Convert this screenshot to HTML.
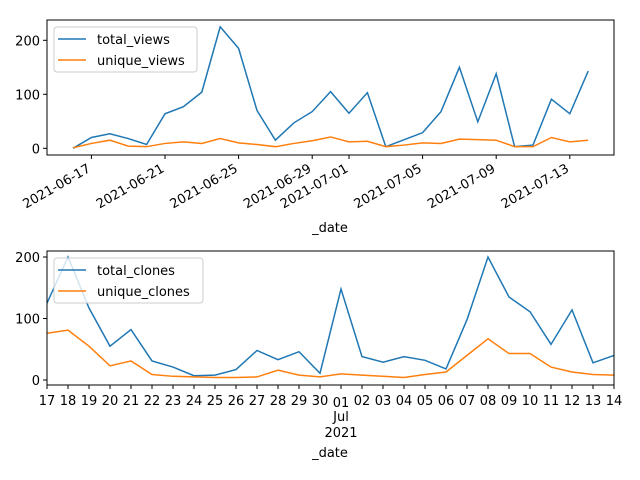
<!DOCTYPE html>
<html><head><meta charset="utf-8"><style>
body{margin:0;background:#fff}
svg{display:block;font-family:"DejaVu Sans","Liberation Sans",sans-serif}
</style></head><body>
<svg id="c" width="640" height="480" xmlns="http://www.w3.org/2000/svg"></svg>
<script>
const viewDates=["2021-06-16","2021-06-17","2021-06-18","2021-06-19","2021-06-20","2021-06-21","2021-06-22","2021-06-23","2021-06-24","2021-06-25","2021-06-26","2021-06-27","2021-06-28","2021-06-29","2021-06-30","2021-07-01","2021-07-02","2021-07-03","2021-07-04","2021-07-05","2021-07-06","2021-07-07","2021-07-08","2021-07-09","2021-07-10","2021-07-11","2021-07-12","2021-07-13","2021-07-14"];
const totalViews=[0,20,27,18,7,64,77,104,225,185,70,15,47,68,105,65,103,3,16,29,68,150,49,138,3,6,91,64,143];
const uniqueViews=[1,9,15,4,3,9,12,9,18,10,7,3,9,14,21,12,13,3,6,10,9,17,16,15,3,3,20,12,15];
const viewTickLabels=["2021-06-17","2021-06-21","2021-06-25","2021-06-29","2021-07-01","2021-07-05","2021-07-09","2021-07-13"];
const viewYTicks=[0,100,200];
const cloneDays=["17","18","19","20","21","22","23","24","25","26","27","28","29","30","01","02","03","04","05","06","07","08","09","10","11","12","13","14"];
const totalClones=[125,200,117,55,82,31,21,7,8,17,48,33,46,11,148,38,29,38,32,18,98,200,135,111,58,114,28,40];
const uniqueClones=[76,81,55,23,31,9,6,5,4,4,5,16,8,5,10,8,6,4,9,13,40,67,43,43,21,13,9,8];
const cloneYTicks=[0,100,200];

const svg=document.getElementById('c');const NS="http://www.w3.org/2000/svg";
function el(t,a,p){const e=document.createElementNS(NS,t);for(const k in a)e.setAttribute(k,a[k]);(p||svg).appendChild(e);return e;}
function day(s){return Date.parse(s)/86400000;}
const BLUE="#1f77b4",ORANGE="#ff7f0e",FS=13;

// top chart
const tx0=47,tx1=614,ty0=20,ty1=155;
const d0=day("2021-06-16");
const X1=d=>73+(day(d)-d0)*18.4;
const Y1=v=>148.3-v*0.54;
let g=el('g',{});

viewYTicks.forEach(v=>{el('line',{x1:tx0-4,x2:tx0,y1:Y1(v),y2:Y1(v),stroke:'#000'},g);
 const t=el('text',{x:tx0-7,y:Y1(v)+5,'text-anchor':'end','font-size':FS},g);t.textContent=v;
 });
viewTickLabels.forEach(d=>{const x=X1(d);el('line',{x1:x,x2:x,y1:ty1,y2:ty1+4,stroke:'#000'},g);
 const t=el('text',{x:x,y:ty1+16,'text-anchor':'end','font-size':FS,transform:`rotate(-30 ${x} ${ty1+16})`},g);t.textContent=d;
 });
[[totalViews,BLUE,'total-views-line'],[uniqueViews,ORANGE,'unique-views-line']].forEach(([arr,c,n])=>{
 const p=el('polyline',{points:arr.map((v,i)=>X1(viewDates[i])+','+Y1(v)).join(' '),fill:'none',stroke:c,'stroke-width':1.5},g);
 });
el('rect',{x:tx0,y:ty0,width:tx1-tx0,height:ty1-ty0,fill:'none',stroke:'#000','stroke-width':1},g);
let t=el('text',{x:330,y:232,'text-anchor':'middle','font-size':FS},g);t.textContent='_date';

let lg=el('g',{},g);
el('rect',{x:54,y:27,width:143,height:45,rx:3,fill:'#fff','fill-opacity':0.8,stroke:'#ccc'},lg);
el('line',{x1:58,x2:86,y1:39,y2:39,stroke:BLUE,'stroke-width':1.5},lg);
t=el('text',{x:97,y:44,'font-size':FS},lg);t.textContent='total_views';
el('line',{x1:58,x2:86,y1:60,y2:60,stroke:ORANGE,'stroke-width':1.5},lg);
t=el('text',{x:97,y:65,'font-size':FS},lg);t.textContent='unique_views';

// bottom chart
const bx0=47,bx1=614,by0=251,by1=385;
const X2=i=>bx0+i*(bx1-bx0)/(cloneDays.length-1);
const Y2=v=>380-v*0.615;
g=el('g',{});

cloneYTicks.forEach(v=>{el('line',{x1:bx0-4,x2:bx0,y1:Y2(v),y2:Y2(v),stroke:'#000'},g);
 const t=el('text',{x:bx0-7,y:Y2(v)+5,'text-anchor':'end','font-size':FS},g);t.textContent=v;
 });
cloneDays.forEach((d,i)=>{const x=X2(i);el('line',{x1:x,x2:x,y1:by1,y2:by1+4,stroke:'#000'},g);
 const t=el('text',{x:x,y:by1+20+(d==='01'?2:0),'text-anchor':'middle','font-size':FS},g);t.textContent=d;
 });
t=el('text',{x:X2(14),y:421,'text-anchor':'middle','font-size':FS},g);t.textContent='Jul';
t=el('text',{x:X2(14),y:437,'text-anchor':'middle','font-size':FS},g);t.textContent='2021';
[[totalClones,BLUE,'total-clones-line'],[uniqueClones,ORANGE,'unique-clones-line']].forEach(([arr,c,n])=>{
 const p=el('polyline',{points:arr.map((v,i)=>X2(i)+','+Y2(v)).join(' '),fill:'none',stroke:c,'stroke-width':1.5},g);
 });
el('rect',{x:bx0,y:by0,width:bx1-bx0,height:by1-by0,fill:'none',stroke:'#000','stroke-width':1},g);
t=el('text',{x:330,y:457,'text-anchor':'middle','font-size':FS},g);t.textContent='_date';

lg=el('g',{},g);
el('rect',{x:54,y:258,width:149,height:45,rx:3,fill:'#fff','fill-opacity':0.8,stroke:'#ccc'},lg);
el('line',{x1:58,x2:86,y1:270,y2:270,stroke:BLUE,'stroke-width':1.5},lg);
t=el('text',{x:97,y:275,'font-size':FS},lg);t.textContent='total_clones';
el('line',{x1:58,x2:86,y1:291,y2:291,stroke:ORANGE,'stroke-width':1.5},lg);
t=el('text',{x:97,y:296,'font-size':FS},lg);t.textContent='unique_clones';
</script>
</body></html>
